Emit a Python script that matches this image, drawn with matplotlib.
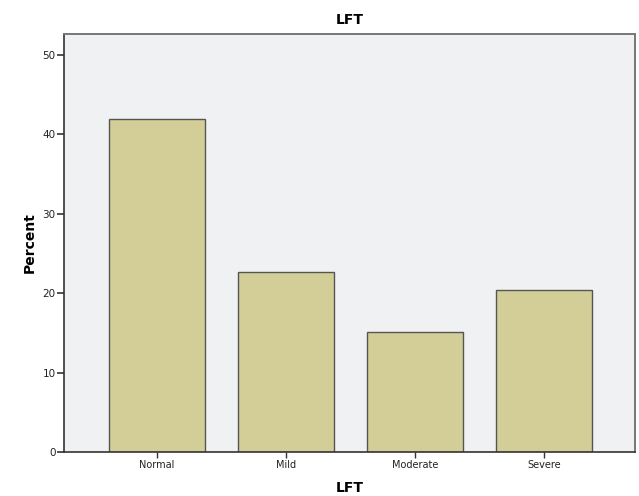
import numpy as np
import matplotlib.pyplot as plt

categories = ['Normal', 'Mild', 'Moderate', 'Severe']
percent = [41.9, 22.6, 15.1, 20.4]
yticks = [0, 10, 20, 30, 40, 50]

fig = plt.figure(figsize=(6.39, 4.96), dpi=100)
ax = fig.add_axes([0.1002, 0.0887, 0.8935, 0.8428])
ax.set_facecolor('#f0f1f2')

x = np.arange(len(categories))
ax.bar(x, percent, width=0.744, color='#d3ce97', edgecolor='#555555', linewidth=1.0)

ax.set_xlim(-0.72, len(categories) - 1 + 0.705)
ax.set_ylim(0, 52.6)
ax.set_xticks(x)
ax.set_xticklabels(categories, fontsize=7, color='#222222')
ax.set_yticks(yticks)
ax.set_yticklabels([str(v) for v in yticks], fontsize=7.5, color='#222222')
ax.tick_params(axis='y', length=5, width=1.2, color='#333333', pad=1)
ax.tick_params(axis='x', length=4, width=1.0, color='#333333', pad=2)

for side in ['left', 'bottom']:
    ax.spines[side].set_color('#333333')
    ax.spines[side].set_linewidth(1.2)
for side in ['top', 'right']:
    ax.spines[side].set_color('#777777')
    ax.spines[side].set_linewidth(1.4)

ax.set_title('LFT', fontsize=10, fontweight='bold', pad=7)
ax.set_xlabel('LFT', fontsize=10, fontweight='bold', labelpad=8)
ax.set_ylabel('Percent', fontsize=10, fontweight='bold', labelpad=4)

fig.savefig('out.png', dpi=100)
